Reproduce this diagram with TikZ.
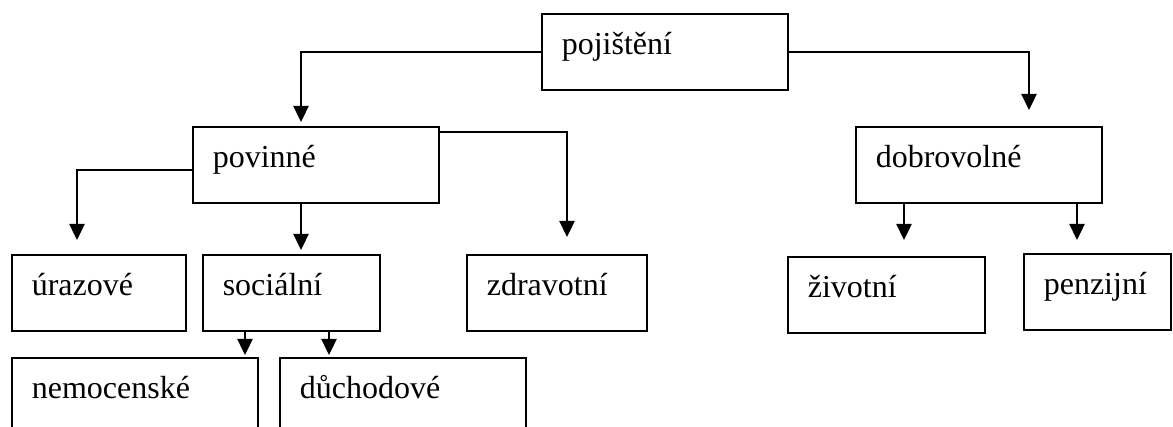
\documentclass[tikz,border=0pt]{standalone}
\usepackage{fontspec}
\setmainfont{Liberation Serif}
\usetikzlibrary{arrows.meta}

\begin{document}
\begin{tikzpicture}[x=1pt,y=-1pt,
   box/.style={draw, line width=1.6pt, anchor=north west, inner xsep=20pt, inner ysep=0pt,
      text height=41pt, text depth=35pt, align=left, font=\fontsize{32}{38}\selectfont},
   arr/.style={line width=2.4pt, -{Triangle[length=16pt,width=15pt]}}]
   \clip (0,0) rectangle (1173,427);

   % boxes
   \node[box, text width=206pt] (poj) at (541,13) {pojištění};
   \node[box, text width=206pt] (pov) at (192,126) {povinné};
   \node[box, text width=206pt] (dob) at (855,126) {dobrovolné};
   \node[box, text width=134pt] (ura) at (11,254) {úrazové};
   \node[box, text width=137pt] (soc) at (202,254) {sociální};
   \node[box, text width=140pt] (zdr) at (466,254) {zdravotní};
   \node[box, text width=206pt] (nem) at (11,357) {nemocenské};
   \node[box, text width=206pt] (duch) at (279,357) {důchodové};
   \node[box, text width=157pt] (ziv) at (787,256) {životní};
   \node[box, text width=107pt] (pen) at (1023,253) {penzijní};

   % arrow tips
   \coordinate (tpov) at (301,122);
   \coordinate (tdob) at (1029,110);
   \coordinate (tura) at (77,240);
   \coordinate (tsoc) at (301,250);
   \coordinate (tzdr) at (567,237);
   \coordinate (tziv) at (904,240);
   \coordinate (tpen) at (1077,240);
   \coordinate (tnem) at (245,355);
   \coordinate (tduch) at (329,355);

   \draw[arr] (poj.west) -| (tpov);
   \draw[arr] (poj.east) -| (tdob);
   \draw[arr] ([yshift=-5pt]pov.west) -| (tura);
   \draw[arr] (pov.south -| tsoc) -- (tsoc);
   \draw[arr] ([yshift=-6pt]pov.north east) -| (tzdr);
   \draw[arr] (dob.south -| tziv) -- (tziv);
   \draw[arr] (dob.south -| tpen) -- (tpen);
   \draw[arr] (soc.south -| tnem) -- (tnem);
   \draw[arr] (soc.south -| tduch) -- (tduch);
\end{tikzpicture}
\end{document}
